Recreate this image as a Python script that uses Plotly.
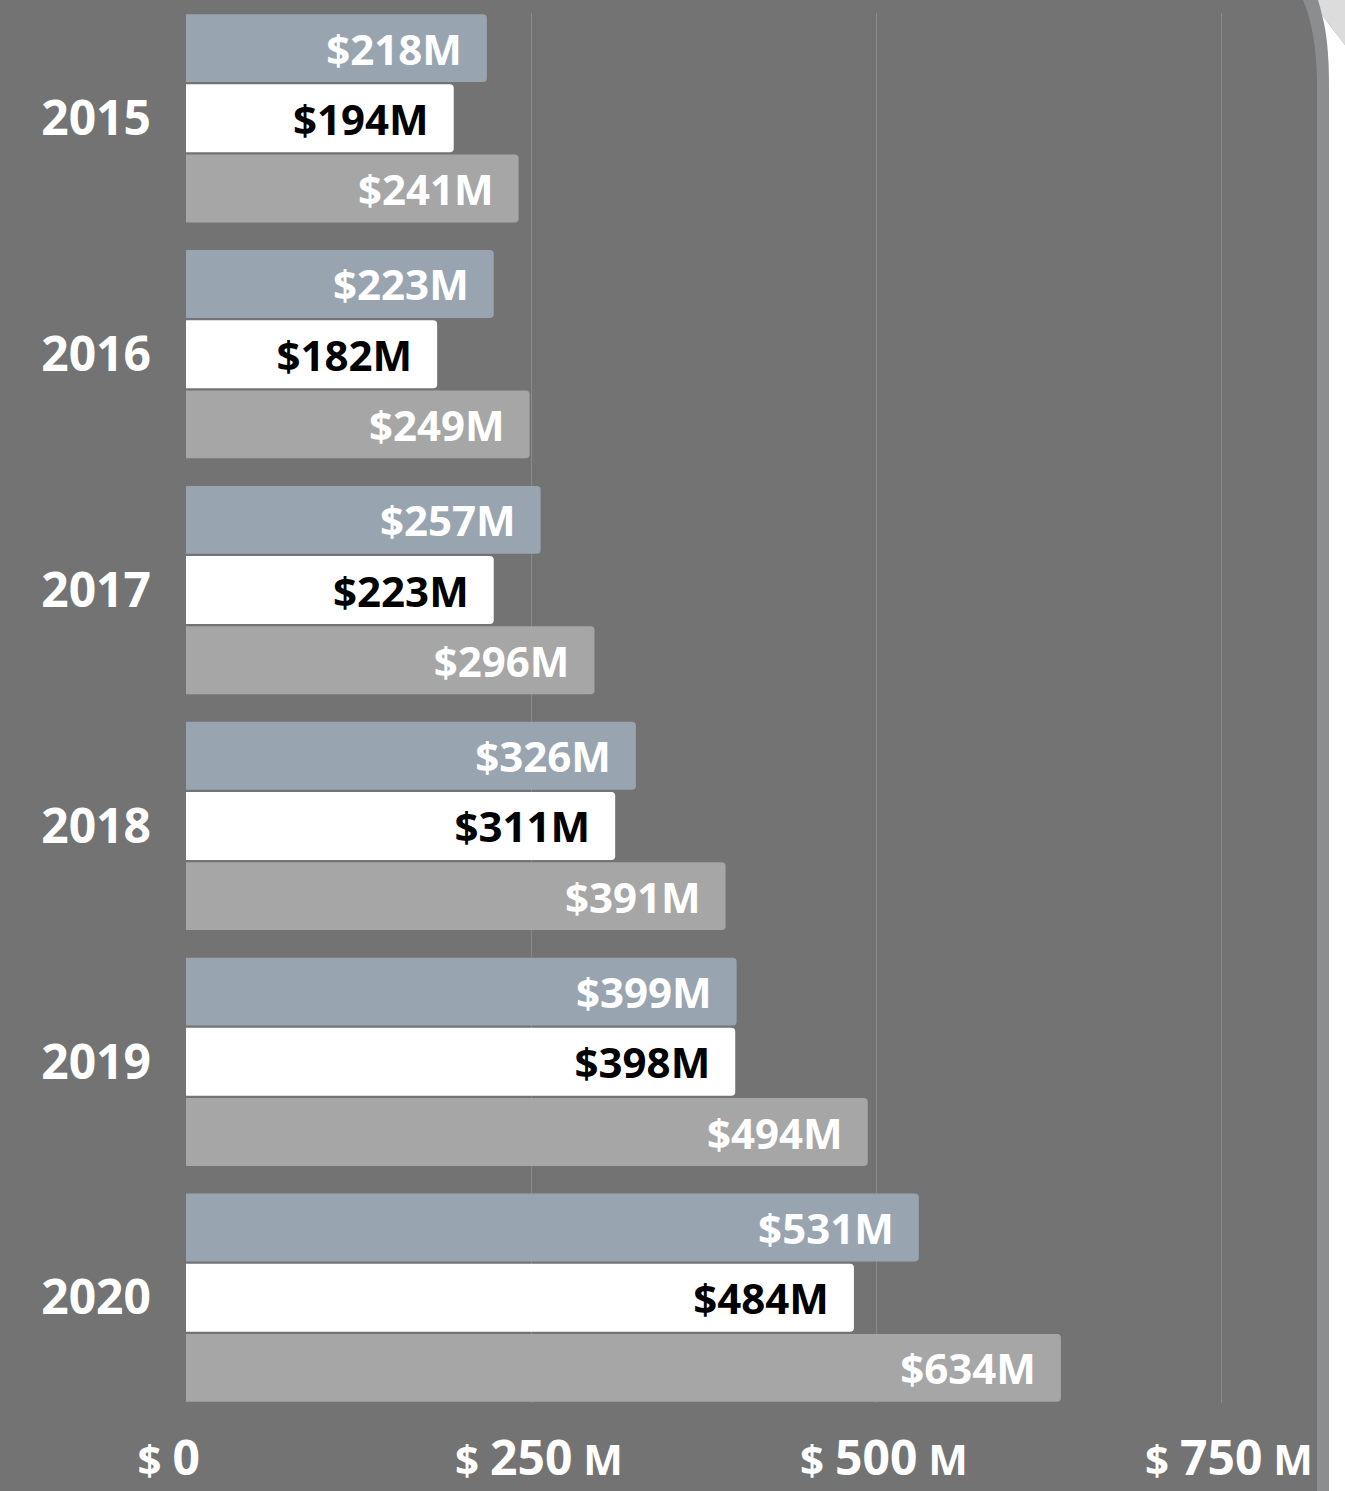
import plotly.graph_objects as go

years = ["2015", "2016", "2017", "2018", "2019", "2020"]
series_a = [218, 223, 257, 326, 399, 531]   # blue-gray bars
series_b = [194, 182, 223, 311, 398, 484]   # white bars
series_c = [241, 249, 296, 391, 494, 634]   # light gray bars
tick_vals = [0, 250, 500, 750]
tick_nums = ["0", "250", "500", "750"]

colors = ["#98a5b1", "#ffffff", "#a6a6a6"]
text_colors = ["#ffffff", "#000000", "#ffffff"]

FONT = "Open Sans"
BG = "#737373"

fig = go.Figure()
for vals, col, tcol in zip([series_a, series_b, series_c], colors, text_colors):
    fig.add_trace(go.Bar(
        y=years, x=vals, orientation="h",
        marker=dict(color=col, line=dict(width=0), cornerradius=4),
        text=[f"${v}M\u2002" for v in vals],
        textposition="inside", insidetextanchor="end", textangle=0,
        insidetextfont=dict(family=FONT, size=42, color=tcol, weight=700),
        constraintext="none", hoverinfo="skip",
    ))

def tick_label(n):
    small = "font-size:42px"
    if n == "0":
        return f"<span style='{small}'>$ </span>0<span style='{small};color:{BG}'> M</span>"
    return f"<span style='{small}'>$ </span>{n}<span style='{small}'> M</span>"

W, H = 1345, 1491
L, R, T, B = 186, 1317, 13, 1403

def px(x):
    return (x - L) / (R - L)

def py(y):
    return (B - y) / (B - T)

def path(cmds):
    out = []
    for c in cmds:
        if isinstance(c, str):
            out.append(c)
        else:
            out.append(f"{px(c[0]):.5f},{py(c[1]):.5f}")
    return " ".join(out)

shapes = [
    dict(type="path", xref="paper", yref="paper", layer="above", line=dict(width=0),
         fillcolor="#8c8d8f",
         path=path(["M", (1303, 0), "Q", (1316, 30), (1317, 80), "L", (1317, H), "L", (W, H), "L", (W, 0), "Z"])),
    dict(type="path", xref="paper", yref="paper", layer="above", line=dict(width=0),
         fillcolor="#ffffff",
         path=path(["M", (1322, 15), "Q", (1329, 40), (1329, 85), "L", (1329, H), "L", (W, H), "L", (W, 45),
                    "Q", (1332, 28), (1322, 15), "Z"])),
    dict(type="path", xref="paper", yref="paper", layer="above", line=dict(width=0),
         fillcolor="#dcdcdc",
         path=path(["M", (1318, 0), "L", (W, 0), "L", (W, 45), "Q", (1332, 28), (1322, 15),
                    "Q", (1320, 6), (1318, 0), "Z"])),
]

fig.update_layout(
    width=W, height=H,
    margin=dict(l=L, r=W - R, t=T, b=H - B, autoexpand=False),
    paper_bgcolor=BG, plot_bgcolor=BG,
    barmode="group", bargap=0.107, bargroupgap=0.033,
    showlegend=False,
    shapes=shapes,
    xaxis=dict(
        range=[0, (R - L) / 1.38], tickvals=tick_vals,
        ticktext=[tick_label(n) for n in tick_nums],
        tickfont=dict(family=FONT, size=48, color="#ffffff", weight=700),
        showgrid=True, gridcolor="#8a8a8a", gridwidth=1, zeroline=False,
        showline=False, ticks="", ticklabelstandoff=23, ticklabelshift=8,
        automargin=False, fixedrange=True,
    ),
    yaxis=dict(
        type="category", categoryorder="array", categoryarray=years,
        range=[5.4465, -0.4465],
        tickfont=dict(family=FONT, size=48, color="#ffffff", weight=700),
        showgrid=False, zeroline=False, showline=False, ticks="",
        ticklabelstandoff=34, automargin=False, fixedrange=True,
    ),
)

fig.write_html(
    "out.html",
    config={"displayModeBar": False},
    post_script="document.body.style.margin='0px';document.body.style.overflow='hidden';",
)
